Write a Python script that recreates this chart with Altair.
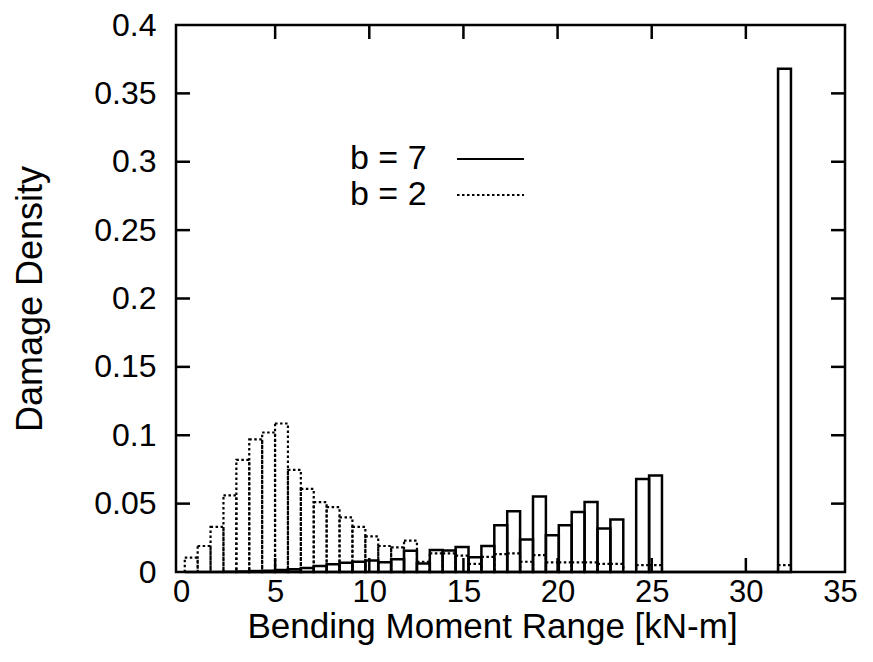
import altair as alt
import pandas as pd

# ---- data ----
bin_start = 0.2
bin_width = 0.685
# damage density per bin, b = 7 (solid outline)
b7 = [0.0, 0.0, 0.0, 0.0002, 0.0004, 0.0007, 0.001, 0.0015, 0.002, 0.003,
      0.0044, 0.0056, 0.0068, 0.0075, 0.0085, 0.0072, 0.0094, 0.0155, 0.0063, 0.016,
      0.0158, 0.0182, 0.0107, 0.019, 0.0342, 0.0444, 0.0238, 0.0553, 0.0269, 0.0342,
      0.0439, 0.0511, 0.0318, 0.0383, 0.0, 0.068, 0.0705, 0.0, 0.0, 0.0,
      0.0, 0.0, 0.0, 0.0, 0.0, 0.0, 0.368]
# damage density per bin, b = 2 (dotted outline)
b2 = [0.0105, 0.019, 0.033, 0.056, 0.082, 0.097, 0.102, 0.1086, 0.0747, 0.0608,
      0.0511, 0.0475, 0.040, 0.033, 0.026, 0.019, 0.018, 0.023, 0.0075, 0.0136,
      0.0136, 0.012, 0.006, 0.011, 0.013, 0.0136, 0.0075, 0.0124, 0.007, 0.007,
      0.007, 0.007, 0.006, 0.006, 0.0, 0.005, 0.005, 0.0, 0.0, 0.0,
      0.0, 0.0, 0.0, 0.0, 0.0, 0.0, 0.005]
x_ticks = [0, 5, 10, 15, 20, 25, 30, 35]
y_ticks = [0, 0.05, 0.1, 0.15, 0.2, 0.25, 0.3, 0.35, 0.4]
x_inner_ticks = [5, 10, 15, 20, 25, 30]
y_inner_ticks = [0.05, 0.1, 0.15, 0.2, 0.25, 0.3, 0.35]
legend_labels = ["b = 7", "b = 2"]

rows = []
for i, (v7, v2) in enumerate(zip(b7, b2)):
    lo = bin_start + i * bin_width
    rows.append({"lo": lo, "hi": lo + bin_width, "b7": v7, "b2": v2})
df = pd.DataFrame(rows)

W, H = 669, 547
FONT = "Liberation Sans"
TICK = 14

xscale = alt.Scale(domain=[0, 35], nice=False, zero=False)
yscale = alt.Scale(domain=[0, 0.4], nice=False)

xaxis = alt.Axis(values=x_ticks, format="~g", grid=False, domain=False, ticks=False,
                 labelFont=FONT, labelFontSize=31, labelColor="black", labelPadding=5,
                 labelFlush=False, labelOverlap=False,
                 titleFont=FONT, titleFontSize=35,
                 titleFontWeight="normal", titleColor="black", titlePadding=2, titleX=316)
yaxis = alt.Axis(values=y_ticks, format="~g", grid=False, domain=False, ticks=False,
                 labelFont=FONT, labelFontSize=32, labelColor="black", labelPadding=20,
                 labelFlush=False, labelOverlap=False,
                 titleFont=FONT, titleFontSize=36,
                 titleFontWeight="normal", titleColor="black", titlePadding=44)
XT = "Bending Moment Range [kN-m]"
YT = "Damage Density"

base = alt.Chart(df)
dotted = base.mark_bar(fill="transparent", stroke="black", strokeWidth=2.2,
                       strokeDash=[2.5, 2.5], orient="vertical").encode(
    x=alt.X("lo:Q", scale=xscale, axis=xaxis, title=XT),
    x2="hi:Q",
    y=alt.Y("b2:Q", scale=yscale, axis=yaxis, title=YT),
    y2=alt.Y2(datum=0),
)
solid = base.mark_bar(fill="transparent", stroke="black", strokeWidth=2.5,
                      orient="vertical").encode(
    x=alt.X("lo:Q", scale=xscale, axis=xaxis, title=XT),
    x2="hi:Q",
    y=alt.Y("b7:Q", scale=yscale, axis=yaxis, title=YT),
    y2=alt.Y2(datum=0),
)

xt = alt.Chart(pd.DataFrame({"v": x_inner_ticks}))
yt = alt.Chart(pd.DataFrame({"v": y_inner_ticks}))
xt_bottom = xt.mark_rule(color="black", strokeWidth=2.5).encode(
    x=alt.X("v:Q", scale=xscale, axis=xaxis, title=XT), y=alt.value(H), y2=alt.value(H - TICK))
xt_top = xt.mark_rule(color="black", strokeWidth=2.5).encode(
    x=alt.X("v:Q", scale=xscale, axis=xaxis, title=XT), y=alt.value(0), y2=alt.value(TICK))
yt_left = yt.mark_rule(color="black", strokeWidth=2.5).encode(
    y=alt.Y("v:Q", scale=yscale, axis=yaxis, title=YT), x=alt.value(0), x2=alt.value(TICK))
yt_right = yt.mark_rule(color="black", strokeWidth=2.5).encode(
    y=alt.Y("v:Q", scale=yscale, axis=yaxis, title=YT), x=alt.value(W - TICK), x2=alt.value(W))

# in-plot key
leg7 = alt.Chart(pd.DataFrame({"label": [legend_labels[0]]}))
leg2 = alt.Chart(pd.DataFrame({"label": [legend_labels[1]]}))
txt7 = leg7.mark_text(font=FONT, fontSize=34, align="left", baseline="middle",
                      color="black").encode(text="label:N", x=alt.value(174), y=alt.value(134))
txt2 = leg2.mark_text(font=FONT, fontSize=34, align="left", baseline="middle",
                      color="black").encode(text="label:N", x=alt.value(174), y=alt.value(170))
line7 = leg7.mark_rule(color="black", strokeWidth=2.2).encode(
    x=alt.value(281), x2=alt.value(348), y=alt.value(134))
line2 = leg2.mark_rule(color="black", strokeWidth=2.2, strokeDash=[2.5, 2.5]).encode(
    x=alt.value(281), x2=alt.value(348), y=alt.value(170))

chart = alt.layer(
    dotted, solid, xt_bottom, xt_top, yt_left, yt_right, txt7, txt2, line7, line2
).properties(
    width=W, height=H,
    autosize=alt.AutoSizeParams(type="none"),
    padding={"left": 168, "top": 17, "right": 20, "bottom": 80},
    background="white",
).configure_view(stroke="black", strokeWidth=2.5)

chart.save("out.html", embed_options={"renderer": "svg", "actions": False})
